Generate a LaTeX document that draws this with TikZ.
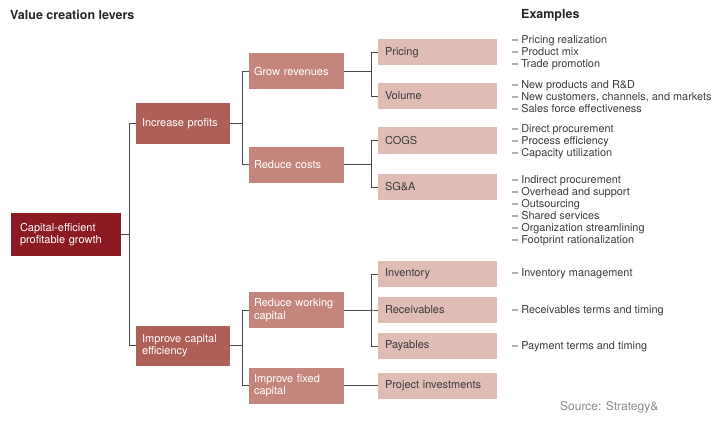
\documentclass[tikz,border=0pt]{standalone}
\usepackage{fontspec}
\setmainfont{TeX Gyre Heros}
\usepackage{tikz}

\definecolor{levzero}{HTML}{8B1A23}
\definecolor{levone}{HTML}{AE5F58}
\definecolor{levtwo}{HTML}{C4867C}
\definecolor{levthree}{HTML}{DFBCB6}
\definecolor{inkgray}{HTML}{3C3C3C}
\definecolor{linegray}{HTML}{4A4A4A}
\definecolor{sourcegray}{HTML}{8A8A8A}

\tikzset{
    lever/.style={align=left, inner ysep=0pt, font=\fontsize{11}{12.5}\selectfont},
    goal/.style={lever, fill=levzero, text=white, inner xsep=9pt, text width=92pt, minimum height=43pt},
    driver/.style={lever, fill=levone, text=white, inner xsep=6pt, text width=82pt, minimum height=40pt},
    subdriver/.style={lever, fill=levtwo, text=white, inner xsep=5pt, text width=85pt, minimum height=36pt},
    leaf/.style={lever, fill=levthree, text=inkgray, inner xsep=7pt, text width=105pt, minimum height=26pt},
    exlist/.style={anchor=west, align=left, inner sep=0pt, text=inkgray, font=\fontsize{10.9}{12}\selectfont},
    heading/.style={anchor=west, inner sep=0pt, text=black!85, font=\fontsize{12.5}{14}\selectfont\bfseries},
    branch/.style={draw=linegray, line width=0.9pt},
}

\begin{document}
\begin{tikzpicture}[x=1pt, y=-1pt]
            \useasboundingbox (0,0) rectangle (713,444);
            % Headings
            \node[heading] (title) at (10,15) {Value creation levers};
            \node[heading] (exhead) at (521,15) {Examples};
            % Levers
            \node[goal] (growth) at (66,234.5) {Capital-efficient\\profitable growth};
            \node[driver] (profits) at (183,123.5) {Increase profits};
            \node[driver] (capeff) at (183,345.5) {Improve capital\\efficiency};
            \node[subdriver] (revenues) at (296.5,71) {Grow revenues};
            \node[subdriver] (costs) at (296.5,164.5) {Reduce costs};
            \node[subdriver] (working) at (296.5,310) {Reduce working\\capital};
            \node[subdriver] (fixed) at (296.5,385.5) {Improve fixed\\capital};
            \node[leaf] (pricing) at (437.5,52.5) {Pricing};
            \node[leaf] (volume) at (437.5,96) {Volume};
            \node[leaf] (cogs) at (437.5,140.5) {COGS};
            \node[leaf] (sga) at (437.5,187) {SG\&A};
            \node[leaf] (inventory) at (437.5,274) {Inventory};
            \node[leaf] (receivables) at (437.5,310) {Receivables};
            \node[leaf] (payables) at (437.5,346) {Payables};
            \node[leaf] (projects) at (437.5,385.5) {Project investments};
            % Branches
            \draw[branch] (growth.east) -- ++(8,0) |- (profits.west);
            \draw[branch] (growth.east) -- ++(8,0) |- (capeff.west);
            \draw[branch] (profits.east) -- ++(12,0) |- (revenues.west);
            \draw[branch] (profits.east) -- ++(12,0) |- (costs.west);
            \draw[branch] (capeff.east) -- ++(12,0) |- (working.west);
            \draw[branch] (capeff.east) -- ++(12,0) |- (fixed.west);
            \draw[branch] (revenues.east) -- ++(27,0) |- (pricing.west);
            \draw[branch] (revenues.east) -- ++(27,0) |- (volume.west);
            \draw[branch] (costs.east) -- ++(27,0) |- (cogs.west);
            \draw[branch] (costs.east) -- ++(27,0) |- (sga.west);
            \draw[branch] (working.east) -- ++(27,0) |- (inventory.west);
            \draw[branch] (working.east) -- ++(27,0) |- (receivables.west);
            \draw[branch] (working.east) -- ++(27,0) |- (payables.west);
            \draw[branch] (fixed.east) -- (projects.west);
            % Examples
            \node[exlist] (expricing) at (512,52.5) {-- Pricing realization\\-- Product mix\\-- Trade promotion};
            \node[exlist] (exvolume) at (512,97) {-- New products and R\&D\\-- New customers, channels, and markets\\-- Sales force effectiveness};
            \node[exlist] (excogs) at (512,141.5) {-- Direct procurement\\-- Process efficiency\\-- Capacity utilization};
            \node[exlist] (exsga) at (512,210.5) {-- Indirect procurement\\-- Overhead and support\\-- Outsourcing\\-- Shared services\\-- Organization streamlining\\-- Footprint rationalization};
            \node[exlist] (exinventory) at (512,274) {-- Inventory management};
            \node[exlist] (exreceivables) at (512,311) {-- Receivables terms and timing};
            \node[exlist] (expayables) at (512,347) {-- Payment terms and timing};
            % Source
            \node[anchor=west, inner sep=0pt, text=sourcegray, font=\fontsize{12}{14}\selectfont] (source) at (560,407) {Source: Strategy\&};
        \end{tikzpicture}
\end{document}
